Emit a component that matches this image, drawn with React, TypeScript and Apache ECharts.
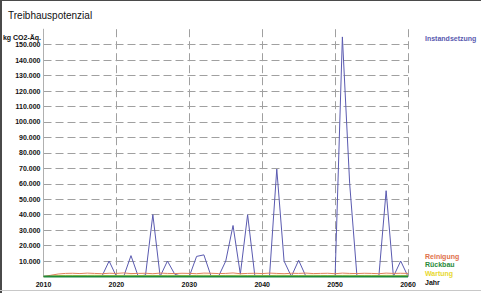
import React, { useEffect, useRef } from "react";
import * as echarts from "echarts";

const years: number[] = [];
for (let y = 2010; y <= 2060; y++) years.push(y);

const instandsetzung = [
  0, 0, 0, 0, 0, 0, 0, 0, 0, 10000,
  0, 0, 13500, 0, 1000, 40000, 0, 10000, 1500, 0,
  0, 13000, 14000, 0, 0, 10000, 33000, 1500, 40000, 0,
  0, 0, 69500, 10000, 0, 10500, 0, 0, 0, 0,
  0, 155000, 60000, 0, 0, 0, 0, 55500, 0, 10000,
  0,
];
const reinigung = [
  0, 800, 1600, 2000, 2100, 1900, 2200, 2000, 1800, 2100,
  2000, 2300, 1900, 2000, 2100, 1800, 2200, 2000, 1900, 2100,
  2000, 1800, 2200, 2100, 1900, 2000, 2300, 1800, 2000, 2100,
  1900, 2200, 2000, 1800, 2100, 2000, 2200, 1900, 2000, 2100,
  1800, 2200, 2000, 1900, 2100, 2000, 1800, 2200, 2000, 2100,
  2000,
];
const wartung = [
  0, 300, 600, 700, 700, 600, 700, 800, 700, 600,
  700, 700, 800, 600, 700, 700, 600, 800, 700, 700,
  600, 700, 800, 700, 600, 700, 700, 800, 600, 700,
  700, 600, 800, 700, 700, 600, 700, 800, 700, 600,
  700, 700, 800, 600, 700, 700, 600, 800, 700, 700,
  700,
];
const rueckbau = years.map(() => 0);

const yMax = 160000;
const yInterval = 10000;
const xTicks = [2010, 2020, 2030, 2040, 2050, 2060];

const toPairs = (vals: number[]) => years.map((y, i) => [y, vals[i]]);

export default function App() {
  const ref = useRef<HTMLDivElement>(null);
  useEffect(() => {
    if (!ref.current) return;
    const chart = echarts.init(ref.current, undefined, { renderer: "svg" });
    const font = "Liberation Sans, Arial, sans-serif";
    const lbl = {
      type: "text",
      style: { font: `bold 7px ${font}`, textVerticalAlign: "middle" },
    };
    chart.setOption({
      animation: false,
      backgroundColor: "#ffffff",
      grid: { left: 43.5, right: 73, top: 29.2, bottom: 16.5 },
      xAxis: {
        type: "value",
        min: 2010,
        max: 2060,
        interval: 10,
        axisLine: { show: false },
        axisTick: { show: false },
        axisLabel: {
          margin: 4,
          fontSize: 7,
          fontWeight: "bold",
          fontFamily: font,
          color: "#111",
          formatter: (v: number) => (xTicks.includes(v) ? String(v) : ""),
        },
        splitLine: {
          show: true,
          lineStyle: { color: "#a0a0a0", type: [8, 4], width: 1 },
        },
      },
      yAxis: {
        type: "value",
        min: 0,
        max: yMax,
        interval: yInterval,
        axisLine: { show: true, lineStyle: { color: "#b0b0b0", width: 1 } },
        axisTick: { show: false },
        axisLabel: {
          margin: 3,
          fontSize: 7,
          fontWeight: "bold",
          fontFamily: font,
          color: "#111",
          formatter: (v: number) =>
            v === 0 || v >= yMax
              ? ""
              : String(v).replace(/\B(?=(\d{3})+(?!\d))/g, "."),
        },
        splitLine: {
          show: true,
          showMaxLine: false,
          lineStyle: { color: "#a0a0a0", type: [8, 4], width: 1 },
        },
      },
      series: [
        {
          name: "Instandsetzung",
          type: "line",
          data: toPairs(instandsetzung),
          symbol: "none",
          clip: false,
          lineStyle: { color: "#5a5ab0", width: 1 },
          z: 2,
        },
        {
          name: "Wartung",
          type: "line",
          data: toPairs(wartung),
          symbol: "none",
          lineStyle: { color: "#e8dc50", width: 1 },
          z: 3,
        },
        {
          name: "Reinigung",
          type: "line",
          data: toPairs(reinigung),
          symbol: "none",
          lineStyle: { color: "#e0805a", width: 1 },
          z: 4,
        },
        {
          name: "Rückbau",
          type: "line",
          data: toPairs(rueckbau),
          symbol: "none",
          clip: false,
          lineStyle: { color: "#1f8a3a", width: 2 },
          z: 5,
        },
      ],
      graphic: [
        {
          type: "rect",
          shape: { x: 0, y: 0, width: 2, height: 293 },
          style: { fill: "#4a4a4a" },
        },
        {
          type: "rect",
          shape: { x: 0, y: 0, width: 481, height: 1 },
          style: { fill: "#4a4a4a" },
        },
        {
          type: "rect",
          shape: { x: 0, y: 290, width: 481, height: 1 },
          style: { fill: "#c8c8c8" },
        },
        {
          type: "text",
          x: 8,
          y: 15,
          style: {
            text: "Treibhauspotenzial",
            font: `10px ${font}`,
            fill: "#111",
            textVerticalAlign: "middle",
          },
        },
        {
          ...lbl,
          x: 41,
          y: 37,
          style: {
            ...lbl.style,
            text: "kg CO2-Äq.",
            fill: "#111",
            textAlign: "right",
          },
        },
        {
          ...lbl,
          x: 425,
          y: 38,
          style: { ...lbl.style, text: "Instandsetzung", fill: "#5a5ab0" },
        },
        {
          ...lbl,
          x: 425,
          y: 256,
          style: { ...lbl.style, text: "Reinigung", fill: "#e0704a" },
        },
        {
          ...lbl,
          x: 425,
          y: 264.5,
          style: { ...lbl.style, text: "Rückbau", fill: "#2a8a3a" },
        },
        {
          ...lbl,
          x: 425,
          y: 273,
          style: { ...lbl.style, text: "Wartung", fill: "#e8d830" },
        },
        {
          ...lbl,
          x: 425,
          y: 282,
          style: { ...lbl.style, text: "Jahr", fill: "#111" },
        },
      ],
    });
    return () => chart.dispose();
  }, []);
  return (
    <div
      ref={ref}
      style={{ width: 481, height: 293, position: "absolute", left: 0, top: 0 }}
    />
  );
}
